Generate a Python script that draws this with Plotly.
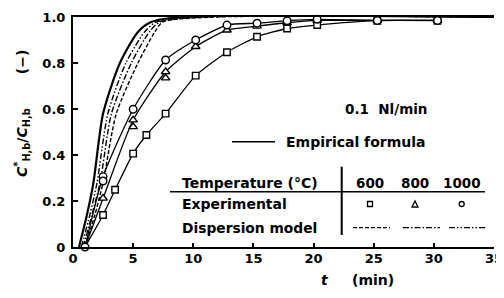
import plotly.graph_objects as go

# ---------------- data ----------------
t_start = 1.0  # common starting point of the empirical curves (C = 0)

t_600 = [2.5, 3.5, 5.0, 6.1, 7.7, 10.2, 12.8, 15.3, 17.8, 20.3, 25.3, 30.3]
y_600 = [0.139, 0.249, 0.406, 0.487, 0.58, 0.745, 0.847, 0.914, 0.95, 0.965, 0.984, 0.984]

t_800 = [2.5, 5.0, 7.7, 10.2, 12.8, 15.3, 17.8, 20.3, 25.3, 30.3]
y_800 = [0.212, 0.552, 0.762, 0.871, 0.943, 0.96, 0.975, 0.985, 0.985, 0.985]
t_800_rep = [5.0, 7.7]
y_800_rep = [0.523, 0.735]

t_1000 = [1.0, 2.5, 5.0, 7.7, 10.2, 12.8, 15.3, 17.8, 20.3, 25.3, 30.3]
y_1000 = [0.0, 0.306, 0.599, 0.813, 0.90, 0.965, 0.973, 0.984, 0.99, 0.985, 0.985]
t_1000_rep = [2.5]
y_1000_rep = [0.287]

# steep model curves (solid, 1000 dash-dot-dot, 800 dash-dot, 600 dashed)
y_model = [0.0, 0.14, 0.28, 0.58, 0.80, 0.935, 0.978, 1.0, 1.0]
t_model_solid = [0.5, 1.16, 1.7, 2.5, 3.9, 5.4, 6.5, 9.0, 35.0]
t_model_1000 = [0.7, 1.4, 2.0, 2.9, 4.4, 5.95, 6.9, 10.0, 35.0]
t_model_800 = [0.85, 1.57, 2.25, 3.2, 4.85, 6.35, 7.2, 11.0, 35.0]
t_model_600 = [1.0, 1.82, 2.5, 3.6, 5.4, 6.8, 7.45, 12.0, 35.0]

x_ticks = [0, 5, 10, 15, 20, 25, 30, 35]
y_ticks = [0, 0.2, 0.4, 0.6, 0.8, 1.0]
y_ticktext = ["0", "0.2", "0.4", "0.6", "0.8", "1.0"]

# ---------------- figure ----------------
OFF = 8                      # page body margin
W, H = 504 - OFF, 298 - OFF
L, R, T, B = 73 - OFF, 10, 17 - OFF, 51
PW, PH = W - L - R, H - T - B


def X(px):   # window pixel -> paper
    return (px - OFF - L) / PW


def Y(py):
    return (H - B - (py - OFF)) / PH


BLACK = "black"
FONT = "DejaVu Sans"
dash_600 = "4px,2px"
dash_800 = "6px,2px,1.5px,2px"
dash_1000 = "6px,2px,1.5px,2px,1.5px,2px"

fig = go.Figure()

# model curves
for tt, dash, w in [(t_model_solid, "solid", 2.2), (t_model_1000, dash_1000, 1.4),
                    (t_model_800, dash_800, 1.4), (t_model_600, dash_600, 1.4)]:
    fig.add_trace(go.Scatter(x=tt, y=y_model, mode="lines", line_shape="spline",
                             line=dict(color=BLACK, width=w, dash=dash, smoothing=0.7),
                             hoverinfo="skip"))

# empirical-formula lines through the experimental points
for tt, yy in [(t_600, y_600), (t_800, y_800), (t_1000[1:], y_1000[1:])]:
    fig.add_trace(go.Scatter(x=[t_start] + tt, y=[0.0] + yy, mode="lines",
                             line_shape="spline",
                             line=dict(color=BLACK, width=1.3, smoothing=0.6),
                             hoverinfo="skip"))

mk = dict(color="white", line=dict(color=BLACK, width=1.4))
fig.add_trace(go.Scatter(x=t_600, y=y_600, mode="markers", cliponaxis=False,
                         marker=dict(symbol="square", size=6.5, **mk)))
fig.add_trace(go.Scatter(x=t_800 + t_800_rep, y=y_800 + y_800_rep, mode="markers",
                         cliponaxis=False,
                         marker=dict(symbol="triangle-up", size=7.5, **mk)))
fig.add_trace(go.Scatter(x=t_1000 + t_1000_rep, y=y_1000 + y_1000_rep, mode="markers",
                         cliponaxis=False,
                         marker=dict(symbol="circle", size=7.5, **mk)))

shapes = []
# empirical formula key line
shapes.append(dict(type="line", xref="paper", yref="paper", x0=X(232), x1=X(275),
                   y0=Y(141.7), y1=Y(141.7), line=dict(color=BLACK, width=1.6)))
# table rules
shapes.append(dict(type="line", xref="paper", yref="paper", x0=X(170), x1=X(485),
                   y0=Y(191.7), y1=Y(191.7), line=dict(color=BLACK, width=1.6)))
shapes.append(dict(type="line", xref="paper", yref="paper", x0=X(341.7), x1=X(341.7),
                   y0=Y(166.7), y1=Y(235), line=dict(color=BLACK, width=2)))
# dispersion model key lines
for x0, x1, d in [(353, 390, dash_600), (403, 440, dash_800), (449, 487, dash_1000)]:
    shapes.append(dict(type="line", xref="paper", yref="paper", x0=X(x0), x1=X(x1),
                       y0=Y(227.7), y1=Y(227.7), line=dict(color=BLACK, width=1.3, dash=d)))
# experimental key markers
shapes.append(dict(type="rect", xref="paper", yref="paper", x0=X(367.5), x1=X(372.5),
                   y0=Y(206.5), y1=Y(201.5), line=dict(color=BLACK, width=1.3)))
shapes.append(dict(type="path", xref="paper", yref="paper",
                   path=f"M {X(412)} {Y(207)} L {X(418)} {Y(207)} L {X(415)} {Y(201)} Z",
                   line=dict(color=BLACK, width=1.3)))
shapes.append(dict(type="circle", xref="paper", yref="paper", x0=X(459.2), x1=X(464.2),
                   y0=Y(206.5), y1=Y(201.5), line=dict(color=BLACK, width=1.3)))

tf = dict(family=FONT, size=13, color=BLACK, weight="bold")
ann = []


def add_text(text, px, py, xanchor="center", size=14, angle=0):
    ann.append(dict(text=text, xref="paper", yref="paper", x=X(px), y=Y(py),
                    xanchor=xanchor, yanchor="middle", showarrow=False,
                    textangle=angle, font=dict(tf, size=size)))


add_text("0.1  Nl/min", 386, 109, size=13.5)
add_text("Empirical formula", 284, 141.7, xanchor="left")
add_text("Temperature (°C)", 180, 182.7, xanchor="left")
add_text("600", 370, 182.7, size=13.5)
add_text("800", 415, 182.7, size=13.5)
add_text("1000", 462, 182.7, size=13.5)
add_text("Experimental", 180, 204.3, xanchor="left")
add_text("Dispersion model", 180, 227.7, xanchor="left", size=13.8)
add_text("<i>t</i>     (min)", 357, 280)
add_text("<i>C</i><sup>*</sup><sub>H,b</sub>/<i>C</i><sub>H,b</sub>       (−)", 22, 114,
         angle=-90)

fig.update_layout(
    width=W, height=H, margin=dict(l=L, r=R, t=T, b=B, autoexpand=False),
    paper_bgcolor="white", plot_bgcolor="white", showlegend=False,
    shapes=shapes, annotations=ann,
    xaxis=dict(range=[0, 35], tickvals=x_ticks, ticks="inside", ticklen=4,
               tickwidth=1.5, tickcolor=BLACK, showline=True, linewidth=2,
               linecolor=BLACK, mirror=True, showgrid=False, zeroline=False,
               tickfont=tf, ticklabelstandoff=-2, automargin=False,
               ticklabeloverflow="allow"),
    yaxis=dict(range=[0, 1.0], tickvals=y_ticks, ticktext=y_ticktext, ticks="inside",
               ticklen=5, tickwidth=1.5, tickcolor=BLACK, showline=True, linewidth=2,
               linecolor=BLACK, showgrid=False, zeroline=False, tickfont=tf,
               ticklabelstandoff=3, automargin=False),
)

fig.write_html("out.html")
